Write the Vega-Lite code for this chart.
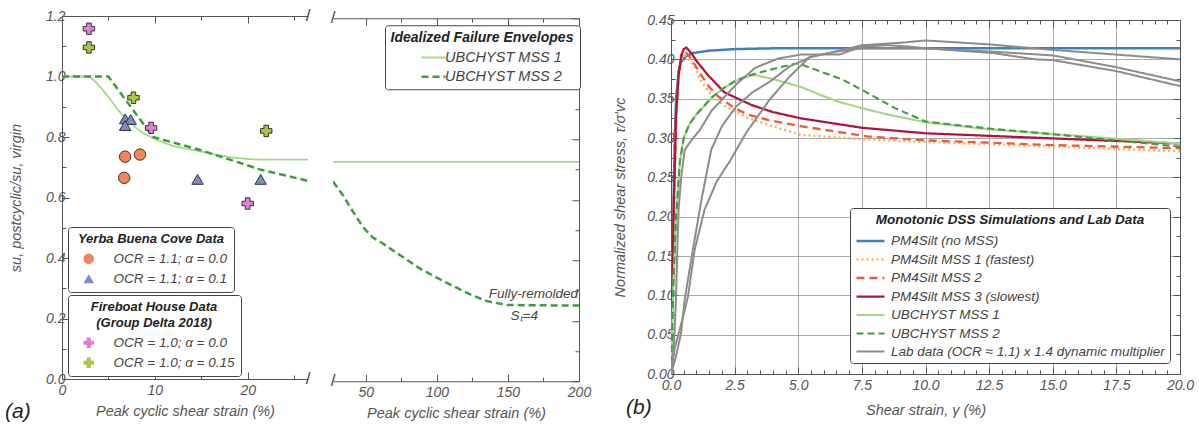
{
"$schema":"https://vega.github.io/schema/vega-lite/v6.json",
"padding":{"left":5,"top":7,"right":5,"bottom":5},
"background":"white",
"config":{
 "font":"Liberation Sans",
 "view":{"stroke":null},
 "axis":{"labelFont":"Liberation Sans","labelFontSize":14,"labelFontStyle":"italic","labelColor":"#555","titleFont":"Liberation Sans","titleFontSize":14.5,"titleFontStyle":"italic","titleFontWeight":"normal","titleColor":"#555","domainColor":"#555","tickColor":"#555","grid":false,"labelOverlap":false,"labelFlush":false,"labelBound":false},
 "legend":{"labelFont":"Liberation Sans","labelFontSize":13.5,"labelFontStyle":"italic","labelColor":"#444","titleFont":"Liberation Sans","titleFontSize":13,"titleFontStyle":"italic","titleFontWeight":"bold","titleColor":"#222","strokeColor":"#444","fillColor":"white","cornerRadius":3,"padding":6,"titleAnchor":"middle","labelLimit":400,"titleLimit":400}
},
"center":true,"spacing":19,
"resolve":{"scale":{"color":"independent","strokeDash":"independent","strokeWidth":"independent","fill":"independent","shape":"independent"}},
"hconcat":[
 {"width":246,"height":363,
  "resolve":{"axis":{"x":"independent","y":"independent"},"scale":{"fill":"independent","shape":"independent"}},
  "layer":[
   {"data":{"values":[
     {"e":"UBCHYST MSS 1","x":0,"y":1.0},{"e":"UBCHYST MSS 1","x":3,"y":1.0},{"e":"UBCHYST MSS 1","x":4,"y":0.97},{"e":"UBCHYST MSS 1","x":5.2,"y":0.925},{"e":"UBCHYST MSS 1","x":6,"y":0.89},{"e":"UBCHYST MSS 1","x":7,"y":0.858},{"e":"UBCHYST MSS 1","x":8,"y":0.83},{"e":"UBCHYST MSS 1","x":8.7,"y":0.814},{"e":"UBCHYST MSS 1","x":10.2,"y":0.79},{"e":"UBCHYST MSS 1","x":12,"y":0.77},{"e":"UBCHYST MSS 1","x":14.8,"y":0.753},{"e":"UBCHYST MSS 1","x":16.5,"y":0.742},{"e":"UBCHYST MSS 1","x":18.4,"y":0.732},{"e":"UBCHYST MSS 1","x":20.5,"y":0.726},{"e":"UBCHYST MSS 1","x":22,"y":0.725},{"e":"UBCHYST MSS 1","x":26.5,"y":0.725},
     {"e":"UBCHYST MSS 2","x":0,"y":1.0},{"e":"UBCHYST MSS 2","x":5,"y":1.0},{"e":"UBCHYST MSS 2","x":9.8,"y":0.8},{"e":"UBCHYST MSS 2","x":14.8,"y":0.758},{"e":"UBCHYST MSS 2","x":21.3,"y":0.693},{"e":"UBCHYST MSS 2","x":26.5,"y":0.655}
    ]},
    "mark":{"type":"line","clip":true},
    "encoding":{
     "x":{"field":"x","type":"quantitative","scale":{"domain":[0,26.5],"nice":false,"zero":false},
          "axis":{"orient":"bottom","values":[0,5,10,15,20,25],"labelExpr":"datum.value % 10 == 0 ? format(datum.value,'d') : ''","tickSize":{"condition":{"test":"datum.value % 10 == 0","value":-7},"value":-4},"labelPadding":11,"title":"Peak cyclic shear strain (%)","titlePadding":4}},
     "y":{"field":"y","type":"quantitative","scale":{"domain":[0,1.2],"nice":false},
          "axis":{"orient":"left","values":[0,0.1,0.2,0.3,0.4,0.5,0.6,0.7,0.8,0.9,1.0,1.1,1.2],"labelExpr":"round(datum.value*10) % 2 == 0 ? format(datum.value,'.1f') : ''","tickSize":{"condition":{"test":"round(datum.value*10) % 2 == 0","value":-7},"value":-4},"labelPadding":4,"title":"su, postcyclic/su, virgin","titlePadding":22}},
     "color":{"field":"e","type":"nominal","scale":{"domain":["UBCHYST MSS 1","UBCHYST MSS 2"],"range":["#a3d88c","#3f9c3f"]},"legend":null},
     "strokeDash":{"field":"e","type":"nominal","scale":{"domain":["UBCHYST MSS 1","UBCHYST MSS 2"],"range":[[1,0],[7,4]]},"legend":null},
     "strokeWidth":{"field":"e","type":"nominal","scale":{"domain":["UBCHYST MSS 1","UBCHYST MSS 2"],"range":[1.8,2.5]},"legend":null}
    }},
   {"data":{"values":[
     {"g":"OCR = 1.1; α = 0.0","x":6.8,"y":0.735},{"g":"OCR = 1.1; α = 0.0","x":8.4,"y":0.742},{"g":"OCR = 1.1; α = 0.0","x":6.7,"y":0.665},
     {"g":"OCR = 1.1; α = 0.1","x":6.8,"y":0.86},{"g":"OCR = 1.1; α = 0.1","x":7.4,"y":0.858},{"g":"OCR = 1.1; α = 0.1","x":6.8,"y":0.838},{"g":"OCR = 1.1; α = 0.1","x":14.6,"y":0.66},{"g":"OCR = 1.1; α = 0.1","x":21.4,"y":0.66}
    ]},
    "mark":{"type":"point","filled":true,"stroke":"#333","strokeWidth":1,"size":130,"opacity":1},
    "encoding":{
     "x":{"field":"x","type":"quantitative","axis":null},
     "y":{"field":"y","type":"quantitative","axis":null},
     "fill":{"field":"g","type":"nominal","scale":{"domain":["OCR = 1.1; α = 0.0","OCR = 1.1; α = 0.1"],"range":["#f3845c","#7c8cc6"]},
        "legend":{"title":"Yerba Buena Cove Data","orient":"none","legendX":6,"legendY":211,"symbolSize":110,"symbolStrokeColor":"#333","symbolStrokeWidth":1,"symbolOffset":8,"labelOffset":18,"rowPadding":5,"titlePadding":6}},
     "shape":{"field":"g","type":"nominal","scale":{"domain":["OCR = 1.1; α = 0.0","OCR = 1.1; α = 0.1"],"range":["circle","triangle-up"]},
        "legend":{"title":"Yerba Buena Cove Data","orient":"none","legendX":6,"legendY":211,"symbolSize":110,"symbolStrokeColor":"#333","symbolStrokeWidth":1,"symbolOffset":8,"labelOffset":18,"rowPadding":5,"titlePadding":6}}
    }},
   {"data":{"values":[
     {"g":"OCR = 1.0; α = 0.0","x":2.9,"y":1.158},{"g":"OCR = 1.0; α = 0.0","x":9.6,"y":0.83},{"g":"OCR = 1.0; α = 0.0","x":20.0,"y":0.58},
     {"g":"OCR = 1.0; α = 0.15","x":2.9,"y":1.096},{"g":"OCR = 1.0; α = 0.15","x":7.7,"y":0.93},{"g":"OCR = 1.0; α = 0.15","x":22.0,"y":0.82}
    ]},
    "mark":{"type":"point","filled":true,"stroke":"#333","strokeWidth":1,"size":130,"opacity":1},
    "encoding":{
     "x":{"field":"x","type":"quantitative","axis":null},
     "y":{"field":"y","type":"quantitative","axis":null},
     "fill":{"field":"g","type":"nominal","scale":{"domain":["OCR = 1.0; α = 0.0","OCR = 1.0; α = 0.15"],"range":["#e27ed6","#a8c640"]},
        "legend":{"title":["Fireboat House Data","(Group Delta 2018)"],"orient":"none","legendX":6,"legendY":279,"symbolSize":110,"symbolStrokeColor":"#333","symbolStrokeWidth":1,"symbolOffset":8,"labelOffset":18,"rowPadding":5,"titlePadding":6,"titleLineHeight":16}},
     "shape":{"field":"g","type":"nominal","scale":{"domain":["OCR = 1.0; α = 0.0","OCR = 1.0; α = 0.15"],"range":["cross","cross"]},
        "legend":{"title":["Fireboat House Data","(Group Delta 2018)"],"orient":"none","legendX":6,"legendY":279,"symbolSize":110,"symbolStrokeColor":"#333","symbolStrokeWidth":1,"symbolOffset":8,"labelOffset":18,"rowPadding":5,"titlePadding":6,"titleLineHeight":16}}
    }},
   {"data":{"values":[{"y":0},{"y":1.2}]},
    "mark":{"type":"text","text":"/","fontSize":17,"color":"#444","dx":0},
    "encoding":{"x":{"datum":26.5,"type":"quantitative","axis":null},"y":{"field":"y","type":"quantitative","axis":null}}},
   {"data":{"values":[{}]},
    "mark":{"type":"text","text":"(a)","fontSize":21,"fontStyle":"italic","align":"left","baseline":"alphabetic","color":"#222","dx":-57,"dy":39},
    "encoding":{"x":{"datum":0,"type":"quantitative","axis":null},"y":{"datum":0,"type":"quantitative","axis":null}}},
   {"data":{"values":[{}]},
    "mark":{"type":"point","opacity":0},
    "encoding":{
     "x":{"datum":0,"type":"quantitative","axis":{"orient":"top","values":[0,5,10,15,20,25],"labels":false,"tickSize":{"condition":{"test":"datum.value % 10 == 0","value":-7},"value":-4},"title":null}},
     "y":{"datum":0,"type":"quantitative","axis":null}}}
  ]},
 {"width":246,"height":363,
  "resolve":{"axis":{"x":"independent","y":"independent"}},
  "layer":[
   {"data":{"values":[
     {"e":"UBCHYST MSS 1","x":27,"y":0.725},{"e":"UBCHYST MSS 1","x":200,"y":0.725},
     {"e":"UBCHYST MSS 2","x":27,"y":0.66},{"e":"UBCHYST MSS 2","x":34,"y":0.615},{"e":"UBCHYST MSS 2","x":41,"y":0.561},{"e":"UBCHYST MSS 2","x":48,"y":0.51},{"e":"UBCHYST MSS 2","x":55,"y":0.475},{"e":"UBCHYST MSS 2","x":60,"y":0.462},{"e":"UBCHYST MSS 2","x":70,"y":0.43},{"e":"UBCHYST MSS 2","x":88,"y":0.373},{"e":"UBCHYST MSS 2","x":105,"y":0.33},{"e":"UBCHYST MSS 2","x":123.5,"y":0.287},{"e":"UBCHYST MSS 2","x":135,"y":0.265},{"e":"UBCHYST MSS 2","x":149.5,"y":0.252},{"e":"UBCHYST MSS 2","x":200,"y":0.25}
    ]},
    "mark":{"type":"line","clip":true},
    "encoding":{
     "x":{"field":"x","type":"quantitative","scale":{"domain":[27,200],"nice":false,"zero":false},
          "axis":{"orient":"bottom","values":[50,75,100,125,150,175,200],"labelExpr":"datum.value % 50 == 0 ? format(datum.value,'d') : ''","tickSize":{"condition":{"test":"datum.value % 50 == 0","value":-7},"value":-4},"labelPadding":11,"title":"Peak cyclic shear strain (%)","titlePadding":4}},
     "y":{"field":"y","type":"quantitative","scale":{"domain":[0,1.2],"nice":false},"axis":null},
     "color":{"field":"e","type":"nominal","scale":{"domain":["UBCHYST MSS 1","UBCHYST MSS 2"],"range":["#a3d88c","#3f9c3f"]},
        "legend":{"title":"Idealized Failure Envelopes","orient":"none","legendX":52,"legendY":7,"symbolType":"M-2,0H2","symbolSize":144,"symbolOffset":24,"labelOffset":4,"rowPadding":4,"titlePadding":5,"titleFontSize":14,"labelFontSize":14.5}},
     "strokeDash":{"field":"e","type":"nominal","scale":{"domain":["UBCHYST MSS 1","UBCHYST MSS 2"],"range":[[1,0],[7,4]]},
        "legend":{"title":"Idealized Failure Envelopes","orient":"none","legendX":52,"legendY":7,"symbolType":"M-2,0H2","symbolSize":144,"symbolOffset":24,"labelOffset":4,"rowPadding":4,"titlePadding":5,"titleFontSize":14,"labelFontSize":14.5}},
     "strokeWidth":{"field":"e","type":"nominal","scale":{"domain":["UBCHYST MSS 1","UBCHYST MSS 2"],"range":[1.8,2.5]},
        "legend":{"title":"Idealized Failure Envelopes","orient":"none","legendX":52,"legendY":7,"symbolType":"M-2,0H2","symbolSize":144,"symbolOffset":24,"labelOffset":4,"rowPadding":4,"titlePadding":5,"titleFontSize":14,"labelFontSize":14.5}}
    }},
   {"data":{"values":[{"t":"Fully-remolded","x":200,"y":0.29}]},
    "mark":{"type":"text","fontSize":13.5,"fontStyle":"italic","color":"#444","baseline":"middle","align":"right","dx":-1},
    "encoding":{"x":{"field":"x","type":"quantitative","axis":null},"y":{"field":"y","type":"quantitative","axis":null},"text":{"field":"t"}}},
   {"data":{"values":[{"t":"Sₜ=4","x":161.5,"y":0.215}]},
    "mark":{"type":"text","fontSize":13.5,"fontStyle":"italic","color":"#444","baseline":"middle","align":"center"},
    "encoding":{"x":{"field":"x","type":"quantitative","axis":null},"y":{"field":"y","type":"quantitative","axis":null},"text":{"field":"t"}}},
   {"data":{"values":[{"y":0},{"y":1.2}]},
    "mark":{"type":"text","text":"/","fontSize":17,"color":"#444","dx":0},
    "encoding":{"x":{"datum":27,"type":"quantitative","axis":null},"y":{"field":"y","type":"quantitative","axis":null}}},
   {"data":{"values":[{}]},
    "mark":{"type":"point","opacity":0},
    "encoding":{
     "x":{"datum":100,"type":"quantitative","axis":{"orient":"top","values":[50,75,100,125,150,175,200],"labels":false,"tickSize":{"condition":{"test":"datum.value % 50 == 0","value":-7},"value":-4},"title":null}},
     "y":{"datum":0,"type":"quantitative","axis":{"orient":"right","values":[0,0.1,0.2,0.3,0.4,0.5,0.6,0.7,0.8,0.9,1.0,1.1,1.2],"labels":false,"tickSize":{"condition":{"test":"round(datum.value*10) % 2 == 0","value":-7},"value":-4},"title":" ","titleFontSize":12,"titlePadding":0}}}}
  ]},
 {"width":509,"height":354,
  "resolve":{"axis":{"x":"independent","y":"independent"}},
  "layer":[
  {"data":{"values":[
    {"s":"PM4Silt (no MSS)","x":0,"y":0},{"s":"PM4Silt (no MSS)","x":0.05,"y":0.12},{"s":"PM4Silt (no MSS)","x":0.1,"y":0.22},{"s":"PM4Silt (no MSS)","x":0.15,"y":0.3},{"s":"PM4Silt (no MSS)","x":0.2,"y":0.35},{"s":"PM4Silt (no MSS)","x":0.3,"y":0.385},{"s":"PM4Silt (no MSS)","x":0.4,"y":0.397},{"s":"PM4Silt (no MSS)","x":0.6,"y":0.404},{"s":"PM4Silt (no MSS)","x":0.86,"y":0.408},{"s":"PM4Silt (no MSS)","x":1.5,"y":0.411},{"s":"PM4Silt (no MSS)","x":2.5,"y":0.413},{"s":"PM4Silt (no MSS)","x":4,"y":0.414},{"s":"PM4Silt (no MSS)","x":20,"y":0.414},
    {"s":"PM4Silt MSS 1 (fastest)","x":0,"y":0},{"s":"PM4Silt MSS 1 (fastest)","x":0.1,"y":0.2},{"s":"PM4Silt MSS 1 (fastest)","x":0.2,"y":0.33},{"s":"PM4Silt MSS 1 (fastest)","x":0.3,"y":0.38},{"s":"PM4Silt MSS 1 (fastest)","x":0.4,"y":0.4},{"s":"PM4Silt MSS 1 (fastest)","x":0.55,"y":0.405},{"s":"PM4Silt MSS 1 (fastest)","x":0.7,"y":0.4},{"s":"PM4Silt MSS 1 (fastest)","x":0.93,"y":0.39},{"s":"PM4Silt MSS 1 (fastest)","x":1.19,"y":0.372},{"s":"PM4Silt MSS 1 (fastest)","x":1.58,"y":0.355},{"s":"PM4Silt MSS 1 (fastest)","x":2.0,"y":0.343},{"s":"PM4Silt MSS 1 (fastest)","x":2.5,"y":0.334},{"s":"PM4Silt MSS 1 (fastest)","x":3.0,"y":0.326},{"s":"PM4Silt MSS 1 (fastest)","x":3.8,"y":0.317},{"s":"PM4Silt MSS 1 (fastest)","x":5.1,"y":0.304},{"s":"PM4Silt MSS 1 (fastest)","x":7.7,"y":0.298},{"s":"PM4Silt MSS 1 (fastest)","x":10,"y":0.295},{"s":"PM4Silt MSS 1 (fastest)","x":15,"y":0.289},{"s":"PM4Silt MSS 1 (fastest)","x":20,"y":0.283},
    {"s":"PM4Silt MSS 2","x":0,"y":0},{"s":"PM4Silt MSS 2","x":0.1,"y":0.2},{"s":"PM4Silt MSS 2","x":0.2,"y":0.33},{"s":"PM4Silt MSS 2","x":0.3,"y":0.38},{"s":"PM4Silt MSS 2","x":0.4,"y":0.402},{"s":"PM4Silt MSS 2","x":0.55,"y":0.41},{"s":"PM4Silt MSS 2","x":0.7,"y":0.405},{"s":"PM4Silt MSS 2","x":0.9,"y":0.395},{"s":"PM4Silt MSS 2","x":1.19,"y":0.38},{"s":"PM4Silt MSS 2","x":1.5,"y":0.365},{"s":"PM4Silt MSS 2","x":1.85,"y":0.353},{"s":"PM4Silt MSS 2","x":2.5,"y":0.338},{"s":"PM4Silt MSS 2","x":3.0,"y":0.33},{"s":"PM4Silt MSS 2","x":3.8,"y":0.323},{"s":"PM4Silt MSS 2","x":5.1,"y":0.315},{"s":"PM4Silt MSS 2","x":7.7,"y":0.302},{"s":"PM4Silt MSS 2","x":10,"y":0.297},{"s":"PM4Silt MSS 2","x":15,"y":0.291},{"s":"PM4Silt MSS 2","x":20,"y":0.287},
    {"s":"PM4Silt MSS 3 (slowest)","x":0,"y":0},{"s":"PM4Silt MSS 3 (slowest)","x":0.1,"y":0.2},{"s":"PM4Silt MSS 3 (slowest)","x":0.2,"y":0.33},{"s":"PM4Silt MSS 3 (slowest)","x":0.3,"y":0.38},{"s":"PM4Silt MSS 3 (slowest)","x":0.4,"y":0.405},{"s":"PM4Silt MSS 3 (slowest)","x":0.5,"y":0.413},{"s":"PM4Silt MSS 3 (slowest)","x":0.6,"y":0.415},{"s":"PM4Silt MSS 3 (slowest)","x":0.8,"y":0.408},{"s":"PM4Silt MSS 3 (slowest)","x":1.0,"y":0.398},{"s":"PM4Silt MSS 3 (slowest)","x":1.45,"y":0.38},{"s":"PM4Silt MSS 3 (slowest)","x":2.1,"y":0.358},{"s":"PM4Silt MSS 3 (slowest)","x":3.16,"y":0.342},{"s":"PM4Silt MSS 3 (slowest)","x":4,"y":0.333},{"s":"PM4Silt MSS 3 (slowest)","x":5.1,"y":0.325},{"s":"PM4Silt MSS 3 (slowest)","x":7.5,"y":0.313},{"s":"PM4Silt MSS 3 (slowest)","x":10,"y":0.306},{"s":"PM4Silt MSS 3 (slowest)","x":14.6,"y":0.3},{"s":"PM4Silt MSS 3 (slowest)","x":20,"y":0.293},
    {"s":"UBCHYST MSS 1","x":0,"y":0},{"s":"UBCHYST MSS 1","x":0.1,"y":0.12},{"s":"UBCHYST MSS 1","x":0.2,"y":0.2},{"s":"UBCHYST MSS 1","x":0.35,"y":0.27},{"s":"UBCHYST MSS 1","x":0.5,"y":0.3},{"s":"UBCHYST MSS 1","x":0.73,"y":0.318},{"s":"UBCHYST MSS 1","x":1.0,"y":0.33},{"s":"UBCHYST MSS 1","x":1.58,"y":0.35},{"s":"UBCHYST MSS 1","x":2.0,"y":0.362},{"s":"UBCHYST MSS 1","x":2.5,"y":0.372},{"s":"UBCHYST MSS 1","x":3.0,"y":0.378},{"s":"UBCHYST MSS 1","x":3.3,"y":0.38},{"s":"UBCHYST MSS 1","x":4.0,"y":0.375},{"s":"UBCHYST MSS 1","x":5.1,"y":0.365},{"s":"UBCHYST MSS 1","x":6.0,"y":0.353},{"s":"UBCHYST MSS 1","x":6.7,"y":0.345},{"s":"UBCHYST MSS 1","x":7.74,"y":0.336},{"s":"UBCHYST MSS 1","x":8.5,"y":0.33},{"s":"UBCHYST MSS 1","x":10,"y":0.32},{"s":"UBCHYST MSS 1","x":12.5,"y":0.311},{"s":"UBCHYST MSS 1","x":14.6,"y":0.306},{"s":"UBCHYST MSS 1","x":17.5,"y":0.299},{"s":"UBCHYST MSS 1","x":20,"y":0.293},
    {"s":"UBCHYST MSS 2","x":0,"y":0},{"s":"UBCHYST MSS 2","x":0.1,"y":0.12},{"s":"UBCHYST MSS 2","x":0.2,"y":0.2},{"s":"UBCHYST MSS 2","x":0.35,"y":0.27},{"s":"UBCHYST MSS 2","x":0.5,"y":0.3},{"s":"UBCHYST MSS 2","x":0.73,"y":0.318},{"s":"UBCHYST MSS 2","x":1.0,"y":0.33},{"s":"UBCHYST MSS 2","x":1.58,"y":0.351},{"s":"UBCHYST MSS 2","x":2.0,"y":0.362},{"s":"UBCHYST MSS 2","x":2.5,"y":0.372},{"s":"UBCHYST MSS 2","x":3.0,"y":0.379},{"s":"UBCHYST MSS 2","x":3.8,"y":0.386},{"s":"UBCHYST MSS 2","x":4.4,"y":0.391},{"s":"UBCHYST MSS 2","x":5.0,"y":0.395},{"s":"UBCHYST MSS 2","x":6.0,"y":0.383},{"s":"UBCHYST MSS 2","x":6.76,"y":0.374},{"s":"UBCHYST MSS 2","x":7.74,"y":0.357},{"s":"UBCHYST MSS 2","x":8.8,"y":0.338},{"s":"UBCHYST MSS 2","x":10,"y":0.321},{"s":"UBCHYST MSS 2","x":12.5,"y":0.312},{"s":"UBCHYST MSS 2","x":14.6,"y":0.306},{"s":"UBCHYST MSS 2","x":17.5,"y":0.297},{"s":"UBCHYST MSS 2","x":20,"y":0.289},
    {"s":"Lab data (OCR ≈ 1.1) x 1.4 dynamic multiplier","t":"L1","x":0,"y":0},{"s":"Lab data (OCR ≈ 1.1) x 1.4 dynamic multiplier","t":"L1","x":0.05,"y":0.01},{"s":"Lab data (OCR ≈ 1.1) x 1.4 dynamic multiplier","t":"L1","x":0.1,"y":0.03},{"s":"Lab data (OCR ≈ 1.1) x 1.4 dynamic multiplier","t":"L1","x":0.15,"y":0.06},{"s":"Lab data (OCR ≈ 1.1) x 1.4 dynamic multiplier","t":"L1","x":0.2,"y":0.1},{"s":"Lab data (OCR ≈ 1.1) x 1.4 dynamic multiplier","t":"L1","x":0.25,"y":0.16},{"s":"Lab data (OCR ≈ 1.1) x 1.4 dynamic multiplier","t":"L1","x":0.3,"y":0.21},{"s":"Lab data (OCR ≈ 1.1) x 1.4 dynamic multiplier","t":"L1","x":0.4,"y":0.25},{"s":"Lab data (OCR ≈ 1.1) x 1.4 dynamic multiplier","t":"L1","x":0.54,"y":0.285},{"s":"Lab data (OCR ≈ 1.1) x 1.4 dynamic multiplier","t":"L1","x":0.8,"y":0.297},{"s":"Lab data (OCR ≈ 1.1) x 1.4 dynamic multiplier","t":"L1","x":1.13,"y":0.31},{"s":"Lab data (OCR ≈ 1.1) x 1.4 dynamic multiplier","t":"L1","x":1.6,"y":0.335},{"s":"Lab data (OCR ≈ 1.1) x 1.4 dynamic multiplier","t":"L1","x":2.56,"y":0.368},{"s":"Lab data (OCR ≈ 1.1) x 1.4 dynamic multiplier","t":"L1","x":3.3,"y":0.389},{"s":"Lab data (OCR ≈ 1.1) x 1.4 dynamic multiplier","t":"L1","x":4.2,"y":0.401},{"s":"Lab data (OCR ≈ 1.1) x 1.4 dynamic multiplier","t":"L1","x":5.1,"y":0.406},{"s":"Lab data (OCR ≈ 1.1) x 1.4 dynamic multiplier","t":"L1","x":6.6,"y":0.406},{"s":"Lab data (OCR ≈ 1.1) x 1.4 dynamic multiplier","t":"L1","x":7.5,"y":0.416},{"s":"Lab data (OCR ≈ 1.1) x 1.4 dynamic multiplier","t":"L1","x":8.5,"y":0.418},{"s":"Lab data (OCR ≈ 1.1) x 1.4 dynamic multiplier","t":"L1","x":9.4,"y":0.416},{"s":"Lab data (OCR ≈ 1.1) x 1.4 dynamic multiplier","t":"L1","x":10,"y":0.414},{"s":"Lab data (OCR ≈ 1.1) x 1.4 dynamic multiplier","t":"L1","x":12.65,"y":0.408},{"s":"Lab data (OCR ≈ 1.1) x 1.4 dynamic multiplier","t":"L1","x":14.3,"y":0.4},{"s":"Lab data (OCR ≈ 1.1) x 1.4 dynamic multiplier","t":"L1","x":15,"y":0.399},{"s":"Lab data (OCR ≈ 1.1) x 1.4 dynamic multiplier","t":"L1","x":17.5,"y":0.385},{"s":"Lab data (OCR ≈ 1.1) x 1.4 dynamic multiplier","t":"L1","x":20,"y":0.366},
    {"s":"Lab data (OCR ≈ 1.1) x 1.4 dynamic multiplier","t":"L2","x":0,"y":0},{"s":"Lab data (OCR ≈ 1.1) x 1.4 dynamic multiplier","t":"L2","x":0.2,"y":0.023},{"s":"Lab data (OCR ≈ 1.1) x 1.4 dynamic multiplier","t":"L2","x":0.4,"y":0.053},{"s":"Lab data (OCR ≈ 1.1) x 1.4 dynamic multiplier","t":"L2","x":0.54,"y":0.095},{"s":"Lab data (OCR ≈ 1.1) x 1.4 dynamic multiplier","t":"L2","x":0.86,"y":0.158},{"s":"Lab data (OCR ≈ 1.1) x 1.4 dynamic multiplier","t":"L2","x":1.2,"y":0.222},{"s":"Lab data (OCR ≈ 1.1) x 1.4 dynamic multiplier","t":"L2","x":1.58,"y":0.285},{"s":"Lab data (OCR ≈ 1.1) x 1.4 dynamic multiplier","t":"L2","x":2.0,"y":0.315},{"s":"Lab data (OCR ≈ 1.1) x 1.4 dynamic multiplier","t":"L2","x":2.56,"y":0.34},{"s":"Lab data (OCR ≈ 1.1) x 1.4 dynamic multiplier","t":"L2","x":3.2,"y":0.358},{"s":"Lab data (OCR ≈ 1.1) x 1.4 dynamic multiplier","t":"L2","x":3.9,"y":0.372},{"s":"Lab data (OCR ≈ 1.1) x 1.4 dynamic multiplier","t":"L2","x":4.66,"y":0.391},{"s":"Lab data (OCR ≈ 1.1) x 1.4 dynamic multiplier","t":"L2","x":5.5,"y":0.403},{"s":"Lab data (OCR ≈ 1.1) x 1.4 dynamic multiplier","t":"L2","x":6.5,"y":0.41},{"s":"Lab data (OCR ≈ 1.1) x 1.4 dynamic multiplier","t":"L2","x":7.5,"y":0.414},{"s":"Lab data (OCR ≈ 1.1) x 1.4 dynamic multiplier","t":"L2","x":10,"y":0.414},{"s":"Lab data (OCR ≈ 1.1) x 1.4 dynamic multiplier","t":"L2","x":12.5,"y":0.41},{"s":"Lab data (OCR ≈ 1.1) x 1.4 dynamic multiplier","t":"L2","x":15,"y":0.405},{"s":"Lab data (OCR ≈ 1.1) x 1.4 dynamic multiplier","t":"L2","x":17.5,"y":0.39},{"s":"Lab data (OCR ≈ 1.1) x 1.4 dynamic multiplier","t":"L2","x":20,"y":0.372},
    {"s":"Lab data (OCR ≈ 1.1) x 1.4 dynamic multiplier","t":"L3","x":0,"y":0},{"s":"Lab data (OCR ≈ 1.1) x 1.4 dynamic multiplier","t":"L3","x":0.14,"y":0.032},{"s":"Lab data (OCR ≈ 1.1) x 1.4 dynamic multiplier","t":"L3","x":0.45,"y":0.07},{"s":"Lab data (OCR ≈ 1.1) x 1.4 dynamic multiplier","t":"L3","x":0.67,"y":0.099},{"s":"Lab data (OCR ≈ 1.1) x 1.4 dynamic multiplier","t":"L3","x":0.93,"y":0.158},{"s":"Lab data (OCR ≈ 1.1) x 1.4 dynamic multiplier","t":"L3","x":1.32,"y":0.209},{"s":"Lab data (OCR ≈ 1.1) x 1.4 dynamic multiplier","t":"L3","x":1.8,"y":0.245},{"s":"Lab data (OCR ≈ 1.1) x 1.4 dynamic multiplier","t":"L3","x":2.3,"y":0.27},{"s":"Lab data (OCR ≈ 1.1) x 1.4 dynamic multiplier","t":"L3","x":2.96,"y":0.307},{"s":"Lab data (OCR ≈ 1.1) x 1.4 dynamic multiplier","t":"L3","x":3.88,"y":0.349},{"s":"Lab data (OCR ≈ 1.1) x 1.4 dynamic multiplier","t":"L3","x":4.66,"y":0.378},{"s":"Lab data (OCR ≈ 1.1) x 1.4 dynamic multiplier","t":"L3","x":5.45,"y":0.403},{"s":"Lab data (OCR ≈ 1.1) x 1.4 dynamic multiplier","t":"L3","x":6.5,"y":0.41},{"s":"Lab data (OCR ≈ 1.1) x 1.4 dynamic multiplier","t":"L3","x":7.5,"y":0.418},{"s":"Lab data (OCR ≈ 1.1) x 1.4 dynamic multiplier","t":"L3","x":9,"y":0.421},{"s":"Lab data (OCR ≈ 1.1) x 1.4 dynamic multiplier","t":"L3","x":10,"y":0.424},{"s":"Lab data (OCR ≈ 1.1) x 1.4 dynamic multiplier","t":"L3","x":12.5,"y":0.419},{"s":"Lab data (OCR ≈ 1.1) x 1.4 dynamic multiplier","t":"L3","x":15,"y":0.412},{"s":"Lab data (OCR ≈ 1.1) x 1.4 dynamic multiplier","t":"L3","x":17.5,"y":0.406},{"s":"Lab data (OCR ≈ 1.1) x 1.4 dynamic multiplier","t":"L3","x":20,"y":0.4}
   ]},
   "mark":{"type":"line","clip":true},
   "encoding":{
    "x":{"field":"x","type":"quantitative","scale":{"domain":[0,20],"nice":false,"zero":false},
     "axis":{"orient":"bottom","values":[0,0.5,1,1.5,2,2.5,3,3.5,4,4.5,5,5.5,6,6.5,7,7.5,8,8.5,9,9.5,10,10.5,11,11.5,12,12.5,13,13.5,14,14.5,15,15.5,16,16.5,17,17.5,18,18.5,19,19.5,20],
      "labelExpr":"round(datum.value*2) % 5 == 0 ? format(datum.value,'.1f') : ''","tickSize":{"condition":{"test":"round(datum.value*2) % 5 == 0","value":-7},"value":-4},"labelPadding":11,
      "grid":true,"gridColor":"#aaa","gridOpacity":{"condition":{"test":"round(datum.value*2) % 5 == 0","value":1},"value":0},
      "title":"Shear strain, γ (%)","titlePadding":8}},
    "y":{"field":"y","type":"quantitative","scale":{"domain":[0,0.45],"nice":false},
     "axis":{"orient":"left","values":[0,0.025,0.05,0.075,0.1,0.125,0.15,0.175,0.2,0.225,0.25,0.275,0.3,0.325,0.35,0.375,0.4,0.425,0.45],
      "labelExpr":"round(datum.value*40) % 2 == 0 ? format(datum.value,'.2f') : ''","tickSize":{"condition":{"test":"round(datum.value*40) % 2 == 0","value":-7},"value":-4},"labelPadding":4,
      "grid":true,"gridColor":"#aaa","gridOpacity":{"condition":{"test":"round(datum.value*40) % 2 == 0","value":1},"value":0},
      "title":"Normalized shear stress, τ/σ′vc","titlePadding":19}},
    "color":{"field":"s","type":"nominal","scale":{"domain":["PM4Silt (no MSS)","PM4Silt MSS 1 (fastest)","PM4Silt MSS 2","PM4Silt MSS 3 (slowest)","UBCHYST MSS 1","UBCHYST MSS 2","Lab data (OCR ≈ 1.1) x 1.4 dynamic multiplier"],"range":["#3f80c2","#f7b05c","#ee5b3c","#b3133b","#a3d88c","#3f9c3f","#8c8c8c"]},
      "legend":{"title":"Monotonic DSS Simulations and Lab Data","orient":"none","legendX":179,"legendY":188,"padding":5,"symbolType":"M-2,0H2","symbolSize":196,"symbolOffset":7,"labelOffset":12,"rowPadding":3.5,"titlePadding":6,"titleFontSize":13.5}},
    "strokeDash":{"field":"s","type":"nominal","scale":{"domain":["PM4Silt (no MSS)","PM4Silt MSS 1 (fastest)","PM4Silt MSS 2","PM4Silt MSS 3 (slowest)","UBCHYST MSS 1","UBCHYST MSS 2","Lab data (OCR ≈ 1.1) x 1.4 dynamic multiplier"],"range":[[1,0],[2,3],[8,5],[1,0],[1,0],[7,4],[1,0]]},
      "legend":{"title":"Monotonic DSS Simulations and Lab Data","orient":"none","legendX":179,"legendY":188,"padding":5,"symbolType":"M-2,0H2","symbolSize":196,"symbolOffset":7,"labelOffset":12,"rowPadding":3.5,"titlePadding":6,"titleFontSize":13.5}},
    "strokeWidth":{"field":"s","type":"nominal","scale":{"domain":["PM4Silt (no MSS)","PM4Silt MSS 1 (fastest)","PM4Silt MSS 2","PM4Silt MSS 3 (slowest)","UBCHYST MSS 1","UBCHYST MSS 2","Lab data (OCR ≈ 1.1) x 1.4 dynamic multiplier"],"range":[2.5,2,2.5,2.5,1.8,2.5,1.5]},
      "legend":{"title":"Monotonic DSS Simulations and Lab Data","orient":"none","legendX":179,"legendY":188,"padding":5,"symbolType":"M-2,0H2","symbolSize":196,"symbolOffset":7,"labelOffset":12,"rowPadding":3.5,"titlePadding":6,"titleFontSize":13.5}},
    "detail":{"field":"t"}
   }},
  {"data":{"values":[{}]},
   "mark":{"type":"text","text":"(b)","fontSize":21,"fontStyle":"italic","align":"left","baseline":"alphabetic","color":"#222","dx":-45,"dy":40},
   "encoding":{"x":{"datum":0,"type":"quantitative","axis":null},"y":{"datum":0,"type":"quantitative","axis":null}}},
  {"data":{"values":[{}]},
   "mark":{"type":"point","opacity":0},
   "encoding":{
    "x":{"datum":0,"type":"quantitative","axis":{"orient":"top","values":[0,0.5,1,1.5,2,2.5,3,3.5,4,4.5,5,5.5,6,6.5,7,7.5,8,8.5,9,9.5,10,10.5,11,11.5,12,12.5,13,13.5,14,14.5,15,15.5,16,16.5,17,17.5,18,18.5,19,19.5,20],"labels":false,"tickSize":{"condition":{"test":"round(datum.value*2) % 5 == 0","value":-7},"value":-4},"title":" ","titleFontSize":6,"titlePadding":5.5}},
    "y":{"datum":0,"type":"quantitative","axis":{"orient":"right","values":[0,0.025,0.05,0.075,0.1,0.125,0.15,0.175,0.2,0.225,0.25,0.275,0.3,0.325,0.35,0.375,0.4,0.425,0.45],"labels":false,"tickSize":{"condition":{"test":"round(datum.value*40) % 2 == 0","value":-7},"value":-4},"title":null}}}}
 ]}
]
}
